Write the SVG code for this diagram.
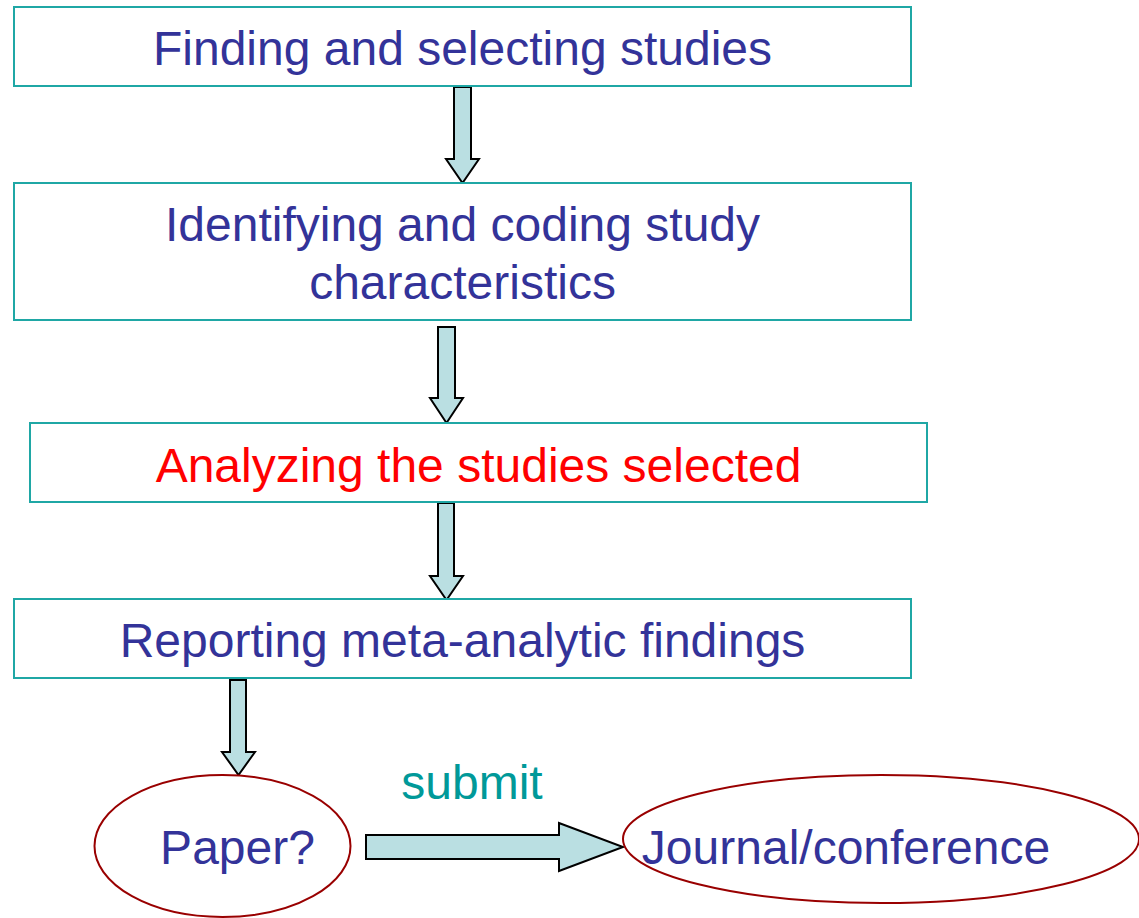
<svg xmlns="http://www.w3.org/2000/svg" width="1139" height="918" viewBox="0 0 1139 918">
<style>
.box{fill:#FFFFFF;stroke:#1FA7A5;stroke-width:2}
.ell{fill:#FFFFFF;stroke:#990000;stroke-width:2}
.arr{fill:#BADFE2;stroke:#000000;stroke-width:2;stroke-linejoin:miter}
.t{font-family:"Liberation Sans",Arial,sans-serif;font-size:48px;fill:#333399;text-anchor:middle}
.red{fill:#FF0000}
.teal{fill:#009999}
</style>
<rect width="1139" height="918" fill="#FFFFFF"/>
<g id="connectors">
<polygon class="arr" points="454,87 471,87 471,159 479,159 462.5,183 446,159 454,159"/>
<polygon class="arr" points="438,327 455,327 455,398 463,398 446.5,423 430,398 438,398"/>
<polygon class="arr" points="438,503 454,503 454,576 463,576 446.5,600 430,576 438,576"/>
<polygon class="arr" points="230,680 246,680 246,752 255,752 238.5,775 222,752 230,752"/>
<polygon class="arr" points="366,835 559,835 559,823 623,847 559,871 559,859 366,859"/>
<text class="t teal" x="472" y="799">submit</text>
</g>
<g id="n1">
<rect class="box" x="14" y="7" width="897" height="79"/>
<text class="t" x="462.5" y="65">Finding and selecting studies</text>
</g>
<g id="n2">
<rect class="box" x="14" y="183" width="897" height="137"/>
<text class="t" x="462.5" y="241">Identifying and coding study</text>
<text class="t" x="462.5" y="299">characteristics</text>
</g>
<g id="n3">
<rect class="box" x="30" y="423" width="897" height="79"/>
<text class="t red" x="478.5" y="482">Analyzing the studies selected</text>
</g>
<g id="n4">
<rect class="box" x="14" y="599" width="897" height="79"/>
<text class="t" x="462.5" y="657">Reporting meta-analytic findings</text>
</g>
<g id="n5">
<ellipse class="ell" cx="222.5" cy="846" rx="128" ry="71"/>
<text class="t" x="237.5" y="864">Paper?</text>
</g>
<g id="n6">
<ellipse class="ell" cx="881" cy="839" rx="258" ry="64"/>
<text class="t" x="846" y="864">Journal/conference</text>
</g>
</svg>
